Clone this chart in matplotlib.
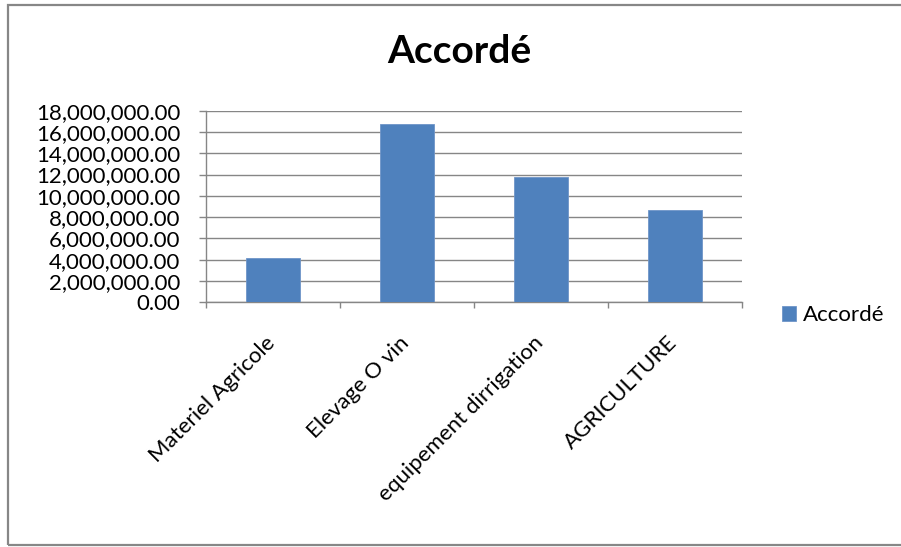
import matplotlib
matplotlib.use("Agg")
import matplotlib.pyplot as plt
import matplotlib.transforms as mtransforms
from matplotlib.patches import Rectangle
from matplotlib.ticker import FuncFormatter, FixedLocator

plt.rcParams['font.family'] = ['Lato', 'DejaVu Sans']

categories = ["Materiel Agricole", "Elevage O vin", "equipement dirrigation", "AGRICULTURE"]
accorde = [4130000, 16780000, 11810000, 8660000]
yticks = [0, 2000000, 4000000, 6000000, 8000000, 10000000, 12000000, 14000000, 16000000, 18000000]
series_name = "Accordé"

W, H = 901, 547
fig = plt.figure(figsize=(W / 100, H / 100), dpi=100)

# chart border (Excel style frame)
fig.patches.append(Rectangle((8 / W, 1 - 545 / H), (W + 20 - 8) / W, (545 - 5) / H,
                             transform=fig.transFigure, fill=False,
                             edgecolor="#878787", linewidth=1.6))

ax = fig.add_axes([206 / W, 1 - 302.3 / H, (742 - 206) / W, (302.3 - 110.7) / H])

x = list(range(len(categories)))
bars = ax.bar(x, accorde, width=0.4, color="#4F81BD", edgecolor="#6F95C8",
              linewidth=0.6, label=series_name, zorder=3)

ax.set_xlim(-0.5, len(categories) - 0.5)
ax.set_ylim(0, 18000000)
ax.set_yticks(yticks)
ax.yaxis.set_major_formatter(FuncFormatter(lambda v, p: f"{v:,.2f}"))
ax.grid(axis="y", color="#868686", linewidth=1.0, zorder=0)

ax.set_xticks(x)
ax.set_xticklabels(categories, rotation=45, ha="right", va="top")
ax.xaxis.set_minor_locator(FixedLocator([i - 0.5 for i in range(len(categories) + 1)]))
ax.tick_params(axis="x", which="major", length=0, pad=22, labelsize=16)
ax.tick_params(axis="x", which="minor", length=4.3, color="#868686", width=1)
ax.tick_params(axis="y", length=5, color="#868686", width=1, pad=13.5, labelsize=16)

# nudge rotated labels a little to the right, like Excel
shift = mtransforms.ScaledTranslation(6 / 100, 0, fig.dpi_scale_trans)
for lbl in ax.get_xticklabels():
    lbl.set_transform(lbl.get_transform() + shift)

for side in ["top", "right"]:
    ax.spines[side].set_visible(False)
for side in ["left", "bottom"]:
    ax.spines[side].set_color("#868686")
    ax.spines[side].set_linewidth(1.0)

fig.text(459 / W, 1 - 63 / H, series_name, ha="center", va="baseline",
         fontsize=28, fontweight="bold")

fig.legend(handles=[bars], labels=[series_name], loc="center left",
           bbox_to_anchor=(782 / W, 1 - 315 / H), frameon=False,
           handlelength=0.65, handleheight=0.65, handletextpad=0.3,
           borderpad=0, borderaxespad=0, fontsize=16)

fig.savefig("out.png", dpi=100)
